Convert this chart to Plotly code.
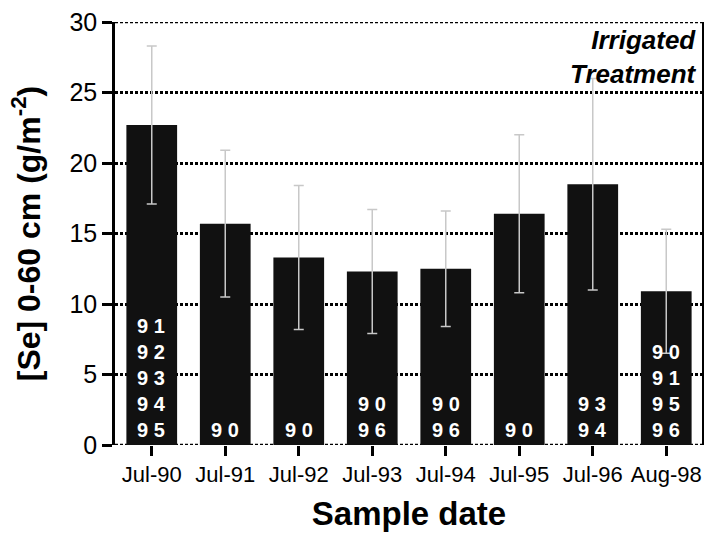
import plotly.graph_objects as go

categories = ["Jul-90", "Jul-91", "Jul-92", "Jul-93", "Jul-94", "Jul-95", "Jul-96", "Aug-98"]
se_values = [22.7, 15.7, 13.3, 12.3, 12.5, 16.4, 18.5, 10.9]
se_errors = [5.6, 5.2, 5.1, 4.4, 4.1, 5.6, 7.5, 4.4]
bar_labels = [
    ["91", "92", "93", "94", "95"],
    ["90"],
    ["90"],
    ["90", "96"],
    ["90", "96"],
    ["90"],
    ["93", "94"],
    ["90", "91", "95", "96"],
]
y_ticks = [0, 5, 10, 15, 20, 25, 30]

FONT = "Liberation Sans, Arial, Helvetica, sans-serif"

fig = go.Figure()
fig.add_trace(go.Bar(
    x=categories,
    y=se_values,
    marker=dict(color="#111111", line=dict(width=0)),
    error_y=dict(type="data", array=se_errors, visible=True,
                 color="#c8c8c8", thickness=1.5, width=5),
    width=0.69,
    showlegend=False,
))

for cat, labs in zip(categories, bar_labels):
    txt = "<br>".join(l[0] + "\u00a0" + l[1] for l in labs)
    fig.add_annotation(
        x=cat, y=0, xref="x", yref="y",
        text="<b>" + txt + "</b>",
        showarrow=False, yanchor="bottom", xanchor="center",
        yshift=2, align="center",
        font=dict(family=FONT, size=20, color="white"),
    )

fig.add_annotation(
    x=0.994, y=1.0, xref="paper", yref="paper",
    xanchor="right", yanchor="top", align="right",
    text="<b><i>Irrigated<br>Treatment</i></b>",
    showarrow=False, yshift=-1,
    font=dict(family=FONT, size=26, color="black"),
)

# frame: dotted top and bottom lines, solid right border
for yv in (0, 30):
    fig.add_shape(type="line", xref="paper", yref="y", x0=0, x1=1, y0=yv, y1=yv,
                  line=dict(color="black", width=2.5, dash="3px,2px"), layer="below")
fig.add_shape(type="line", xref="paper", yref="y", x0=1, x1=1, y0=0, y1=30,
              line=dict(color="black", width=2))

fig.update_layout(
    width=708, height=533,
    margin=dict(l=115, r=5, t=22, b=88),
    paper_bgcolor="white", plot_bgcolor="white",
    font=dict(family=FONT, color="black"),
    bargap=0.31,
    xaxis=dict(
        showgrid=False, showline=False, zeroline=False,
        ticks="outside", ticklen=10, tickwidth=2.5, tickcolor="black",
        tickfont=dict(size=22, family=FONT, color="black"),
        title=dict(text="<b>Sample date</b>", font=dict(size=33, family=FONT), standoff=15),
    ),
    yaxis=dict(
        range=[0, 30], tickvals=y_ticks,
        showgrid=True, gridcolor="black", griddash="3px,2px", gridwidth=2.5,
        zeroline=False,
        showline=True, linecolor="black", linewidth=2.5,
        ticks="outside", ticklen=10, tickwidth=2.5, tickcolor="black",
        tickfont=dict(size=25, family=FONT, color="black"),
        title=dict(text="<b>[Se] 0-60 cm (g/m<sup>-2</sup>)</b>", font=dict(size=32, family=FONT), standoff=20),
    ),
)

fig.write_html("out.html", config={"displayModeBar": False},
               post_script="document.body.style.margin='0';")
